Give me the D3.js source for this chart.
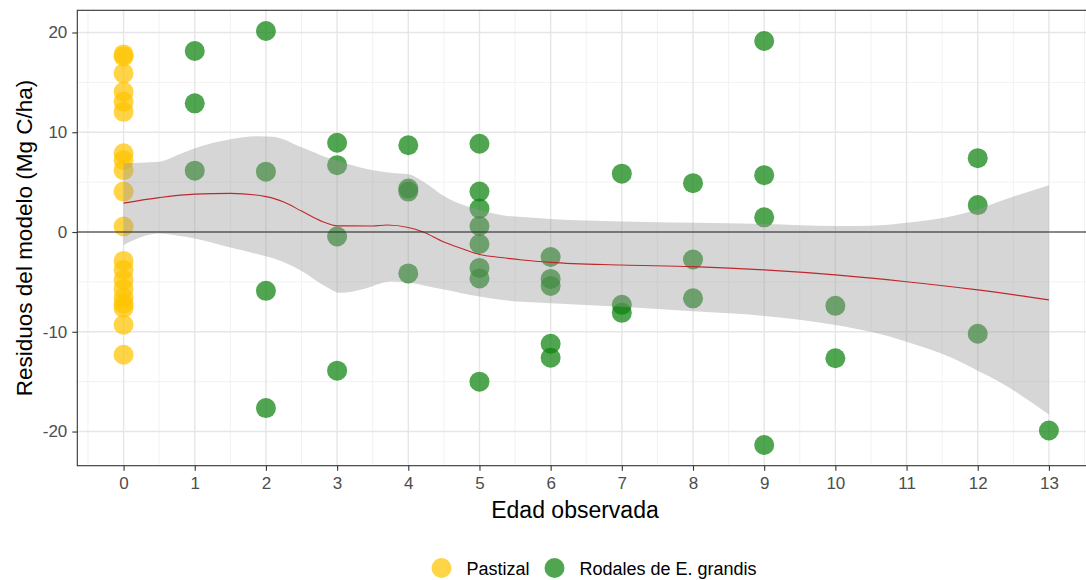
<!DOCTYPE html>
<html>
<head>
<meta charset="utf-8">
<script src="https://cdn.jsdelivr.net/npm/d3@7"></script>
<style>
  html, body { margin: 0; padding: 0; background: #ffffff; }
  svg { display: block; font-family: "Liberation Sans", Arial, sans-serif; }
</style>
</head>
<body>
<svg id="chart" width="1086" height="580"></svg>
<script>
// Residuals of the carbon model by observed stand age
const pastizalEdad = [0,0,0,0,0,0,0,0,0,0,0,0,0,0,0,0,0,0,0,0,0];
const pastizalResiduo = [17.8,17.6,15.9,14.05,13.05,12.05,7.9,7.2,6.2,4.05,0.55,
                         -2.9,-3.8,-4.8,-5.7,-6.6,-7.2,-7.6,-9.3,-12.3];
const rodalesEdad = [1,1,1, 2,2,2,2, 3,3,3,3, 4,4,4,4,
                     5,5,5,5,5,5,5,5, 6,6,6,6,6, 7,7,7, 8,8,8,
                     9,9,9,9, 10,10, 12,12,12, 13];
const rodalesResiduo = [18.15,12.9,6.15, 20.15,6.05,-5.9,-17.65, 8.95,6.7,-0.45,-13.9,
                        8.7,4.35,4.05,-4.15,
                        8.85,4.05,2.35,0.6,-1.2,-3.6,-4.65,-15.0,
                        -2.5,-4.7,-5.4,-11.2,-12.6, 5.85,-7.3,-8.1, 4.9,-2.75,-6.65,
                        19.15,5.7,1.47,-21.35, -7.4,-12.65, 7.4,2.7,-10.2, -19.9];

// Loess fit and its confidence band
const suaveEdad = [0,0.5,1,1.5,2,2.25,2.5,2.8,3,3.5,3.7,4,4.2,4.5,4.75,5,5.3,5.6,6,7,8,9,10,11,12,13];
const suaveAjuste = [2.9,3.45,3.8,3.87,3.55,3.0,2.1,1.03,0.62,0.6,0.7,0.45,0.02,-1.0,-1.65,-2.25,-2.55,-2.8,-3.04,-3.3,-3.47,-3.8,-4.3,-4.98,-5.8,-6.8];
const bandaEdad = [0,0.5,0.75,1,1.5,1.9,2.1,2.5,2.85,3.05,3.4,3.75,4,4.25,4.5,5,5.3,5.6,6,7,8,9,10,10.5,11,11.65,12,12.3,13];
const bandaSup = [6.9,7.05,7.7,8.4,9.3,9.6,9.55,8.5,7.5,7.05,6.35,5.95,5.8,4.87,3.6,2.2,1.7,1.5,1.3,1.05,0.93,0.8,0.6,0.63,0.93,1.6,2.27,3.05,4.7];
const bandaInf = [-1.3,-0.15,-0.35,-0.65,-1.55,-2.25,-2.64,-3.9,-5.5,-6.1,-5.65,-4.97,-5.07,-5.4,-5.75,-6.47,-6.8,-7.0,-7.15,-7.5,-7.95,-8.41,-9.31,-10.0,-10.99,-12.65,-13.9,-15.0,-18.3];

const xTicks = [0,1,2,3,4,5,6,7,8,9,10,11,12,13];
const yTicks = [-20,-10,0,10,20];
const series = ["Pastizal", "Rodales de E. grandis"];
const colores = { "Pastizal": "#ffc400", "Rodales de E. grandis": "#0d820d" };
const alfa = 0.72;

const svg = d3.select("#chart");
const W = 1086, H = 580;
const panel = { left: 77.3, top: 10.3, bottom: 465.7 };

// Continuous scales with ggplot-style 5% expansion
const allX = pastizalEdad.concat(rodalesEdad);
const allY = pastizalResiduo.concat(rodalesResiduo);
const [x0, x1] = d3.extent(allX);
const [y0, y1] = d3.extent(allY);
const ex = (x1 - x0) * 0.05, ey = (y1 - y0) * 0.05;
const unitX = 71.18;
const x = d3.scaleLinear().domain([x0 - ex, x1 + ex])
  .range([panel.left, panel.left + (x1 - x0 + 2 * ex) * unitX]);
const y = d3.scaleLinear().domain([y0 - ey, y1 + ey]).range([panel.bottom, panel.top]);
const panelRight = x.range()[1];

svg.append("rect").attr("width", W).attr("height", H).attr("fill", "#ffffff");

svg.append("defs").append("clipPath").attr("id", "panelClip")
  .append("rect").attr("x", panel.left).attr("y", panel.top)
  .attr("width", panelRight - panel.left).attr("height", panel.bottom - panel.top);

const g = svg.append("g").attr("clip-path", "url(#panelClip)");

// Grid: minor then major
const xMinor = d3.range(x0 - 0.5, x1 + 1, 1);
const yMinor = [-15, -5, 5, 15];
g.selectAll(".vminor").data(xMinor).join("line")
  .attr("x1", d => x(d)).attr("x2", d => x(d))
  .attr("y1", panel.top).attr("y2", panel.bottom)
  .attr("stroke", "#f2f2f2").attr("stroke-width", 1);
g.selectAll(".hminor").data(yMinor).join("line")
  .attr("y1", d => y(d)).attr("y2", d => y(d))
  .attr("x1", panel.left).attr("x2", panelRight)
  .attr("stroke", "#f2f2f2").attr("stroke-width", 1);
g.selectAll(".vmajor").data(xTicks).join("line")
  .attr("x1", d => x(d)).attr("x2", d => x(d))
  .attr("y1", panel.top).attr("y2", panel.bottom)
  .attr("stroke", "#e6e6e6").attr("stroke-width", 1.4);
g.selectAll(".hmajor").data(yTicks).join("line")
  .attr("y1", d => y(d)).attr("y2", d => y(d))
  .attr("x1", panel.left).attr("x2", panelRight)
  .attr("stroke", "#e6e6e6").attr("stroke-width", 1.4);

// Points
const puntos = pastizalEdad.slice(0, pastizalResiduo.length)
  .map((e, i) => ({ edad: e, res: pastizalResiduo[i], grupo: "Pastizal" }))
  .concat(rodalesEdad.map((e, i) => ({ edad: e, res: rodalesResiduo[i], grupo: "Rodales de E. grandis" })));
g.selectAll(".pt").data(puntos).join("circle")
  .attr("cx", d => x(d.edad)).attr("cy", d => y(d.res)).attr("r", 10)
  .attr("fill", d => colores[d.grupo]).attr("fill-opacity", alfa);

// Confidence band
const banda = bandaEdad.map((e, i) => ({ e, lo: bandaInf[i], hi: bandaSup[i] }));
g.append("path").datum(banda)
  .attr("d", d3.area().x(d => x(d.e)).y0(d => y(d.lo)).y1(d => y(d.hi)).curve(d3.curveMonotoneX))
  .attr("fill", "#999999").attr("fill-opacity", 0.4);

// Loess line
const suave = suaveEdad.map((e, i) => ({ e, v: suaveAjuste[i] }));
g.append("path").datum(suave)
  .attr("d", d3.line().x(d => x(d.e)).y(d => y(d.v)).curve(d3.curveMonotoneX))
  .attr("fill", "none").attr("stroke", "#c0282d").attr("stroke-width", 1.1);

// Reference line at zero
g.append("line").attr("x1", panel.left).attr("x2", panelRight)
  .attr("y1", y(0)).attr("y2", y(0)).attr("stroke", "#222222").attr("stroke-width", 1);

// Panel border
svg.append("rect").attr("x", panel.left).attr("y", panel.top)
  .attr("width", panelRight - panel.left).attr("height", panel.bottom - panel.top)
  .attr("fill", "none").attr("stroke", "#333333").attr("stroke-width", 1.1);

// Axes
const xAxis = svg.append("g").attr("transform", `translate(0,${panel.bottom})`)
  .call(d3.axisBottom(x).tickValues(xTicks).tickSize(5).tickPadding(6).tickFormat(d3.format("d")));
const yAxis = svg.append("g").attr("transform", `translate(${panel.left},0)`)
  .call(d3.axisLeft(y).tickValues(yTicks).tickSize(5).tickPadding(5).tickFormat(d => d < 0 ? "-" + Math.abs(d) : d));
[xAxis, yAxis].forEach(a => {
  a.select(".domain").remove();
  a.selectAll(".tick line").attr("stroke", "#333333").attr("stroke-width", 1.1);
  a.selectAll(".tick text").attr("fill", "#4d4d4d").attr("font-size", 17)
    .attr("font-family", "'Liberation Sans', Arial, sans-serif");
});

// Axis titles
svg.append("text").attr("x", 575).attr("y", 518).attr("text-anchor", "middle")
  .attr("font-size", 23).attr("fill", "#000").text("Edad observada");
svg.append("text").attr("transform", `translate(32,${(panel.top + panel.bottom) / 2}) rotate(-90)`)
  .attr("text-anchor", "middle").attr("font-size", 22.5).attr("fill", "#000")
  .text("Residuos del modelo (Mg C/ha)");

// Legend
const leyenda = svg.append("g");
const legX = [441.5, 554.5];
series.forEach((s, i) => {
  leyenda.append("circle").attr("cx", legX[i]).attr("cy", 568).attr("r", 10)
    .attr("fill", colores[s]).attr("fill-opacity", alfa);
  leyenda.append("text").attr("x", legX[i] + 25).attr("y", 574.5).attr("font-size", 18)
    .attr("fill", "#000").text(s);
});
</script>
</body>
</html>
